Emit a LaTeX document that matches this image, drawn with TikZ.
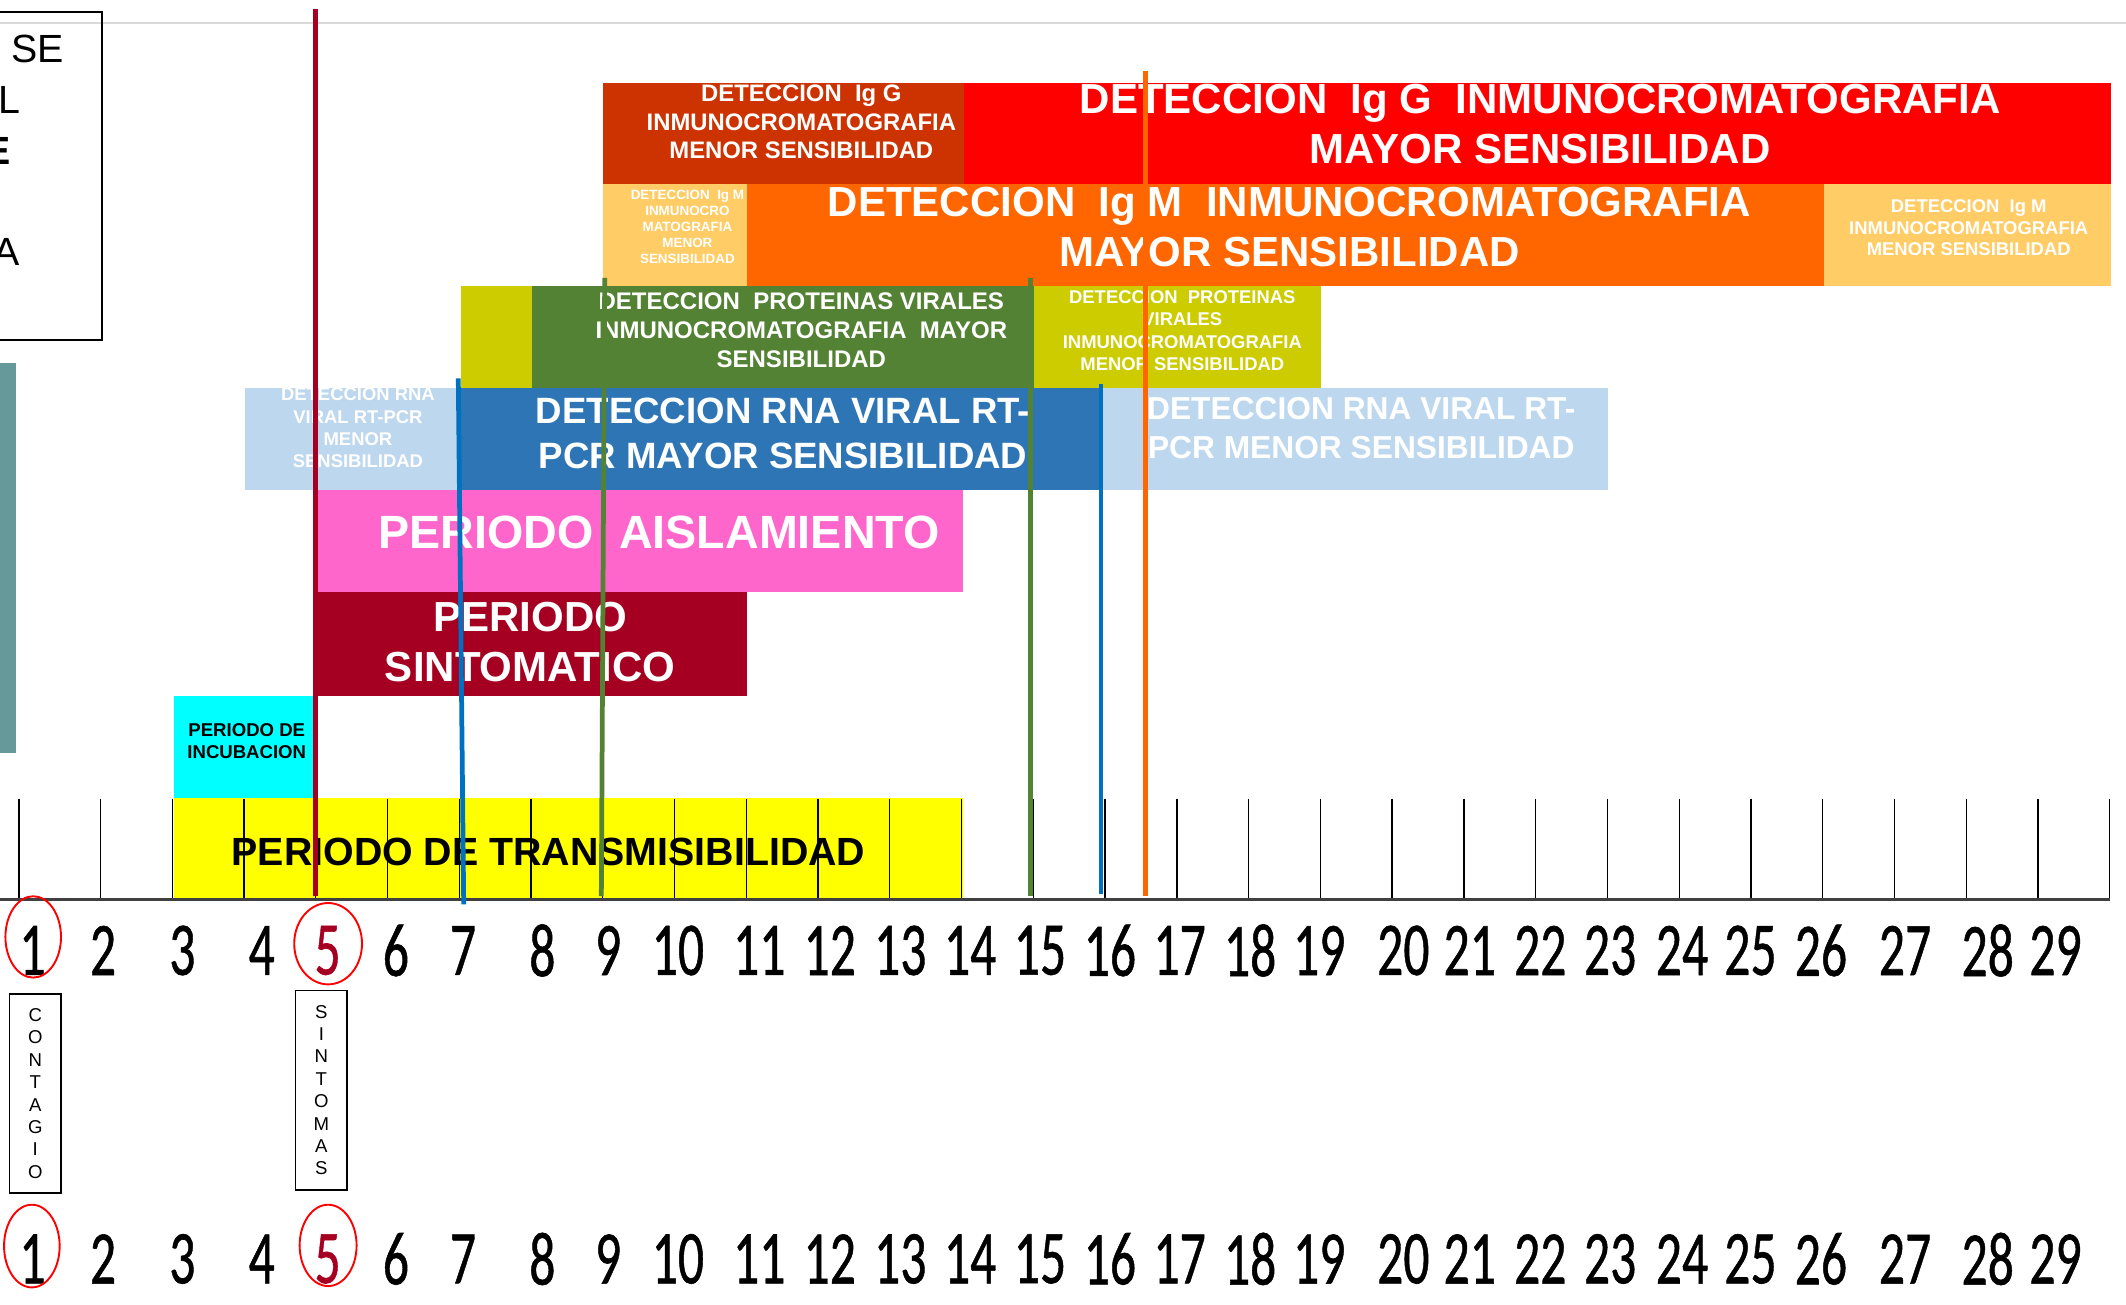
\documentclass[tikz,border=0pt]{standalone}
\usepackage{fontspec}
\usepackage{graphicx}
\setmainfont{Liberation Sans}
\newfontfamily\numfont[FakeBold=0.8]{Carlito}
\usetikzlibrary{shapes.geometric}
\definecolor{crimson}{HTML}{A50021}
\definecolor{brownG}{HTML}{CC3300}
\definecolor{redG}{HTML}{FF0000}
\definecolor{lorange}{HTML}{FFCC66}
\definecolor{orangeM}{HTML}{FF6600}
\definecolor{olive}{HTML}{CCCC00}
\definecolor{greenP}{HTML}{548235}
\definecolor{lblue}{HTML}{BDD7EE}
\definecolor{blueR}{HTML}{2E75B6}
\definecolor{pinkA}{HTML}{FF66CC}
\definecolor{cyanI}{HTML}{00FFFF}
\definecolor{yellowT}{HTML}{FFFF00}
\definecolor{tealS}{HTML}{669999}
\definecolor{blueL}{HTML}{0070C0}
\definecolor{axisg}{HTML}{404040}
\definecolor{topg}{HTML}{D9D9D9}
\newcommand\dnum[1]{\scalebox{0.68}[1]{\numfont\fontsize{56}{60}\selectfont #1}}
\begin{document}
\begin{tikzpicture}[x=1pt,y=-1pt,
  wt/.style={text=white, align=center, inner sep=0pt, font=\bfseries},
  bk/.style={text=black, align=center, inner sep=0pt, font=\bfseries},
  vline/.style={line width=3.5pt},
  tickline/.style={line width=1pt, black},
  num/.style={inner sep=0pt},
  ring/.style={draw=red, line width=1.4pt, ellipse, inner sep=0pt},
  vbox/.style={draw=black, line width=1.3pt, minimum width=38pt, minimum height=147pt, align=center, inner sep=0pt, font=\fontsize{13.7}{16.5}\selectfont}]
\useasboundingbox (0,0) rectangle (1568,962);
\clip (0,0) rectangle (1568,962);
\fill[white] (0,0) rectangle (1568,962);
% top line
\draw[topg, line width=2pt] (0,17) -- (1568,17);
% left box
\draw[black, line width=1.3pt] (-20,9) rectangle (75,251);
\node[anchor=east, inner sep=0pt, font=\fontsize{29}{35}\selectfont] (ta) at (47,36) {SE};
\node[anchor=east, inner sep=0pt, font=\fontsize{29}{35}\selectfont] (tb) at (15,74) {L};
\node[anchor=east, inner sep=0pt, font=\fontsize{29}{35}\selectfont\bfseries] (tc) at (8,111) {E};
\node[anchor=east, inner sep=0pt, font=\fontsize{29}{35}\selectfont] (td) at (15,186) {A};
\fill[tealS] (0,268) rectangle (12,555);
% bars
\fill[brownG] (444.7,61) rectangle (710.7,135.7);
\fill[redG] (710.7,61) rectangle (1557,135.7);
\fill[lorange] (444.7,135.7) rectangle (551,211);
\fill[orangeM] (551,135.7) rectangle (1345,211);
\fill[lorange] (1345,135.7) rectangle (1557,211);
\fill[olive] (340,211) rectangle (392,286);
\fill[greenP] (392,211) rectangle (762.7,286);
\fill[olive] (762.7,211) rectangle (974,286);
\fill[lblue] (180.5,286) rectangle (337,361.4);
\fill[blueR] (337,286) rectangle (812.6,361.4);
\fill[lblue] (812.6,286) rectangle (1186,361.4);
\fill[pinkA] (234.3,361.4) rectangle (710.6,436.4);
\fill[crimson] (231,436.4) rectangle (551,513.3);
\fill[cyanI] (128,513.3) rectangle (231,588.6);
\fill[yellowT] (128,588.6) rectangle (710,663);
% ticks
\draw[tickline] (14,589) -- (14,663);
\draw[tickline] (74,589) -- (74,663);
\foreach \i in {0,...,27} {\draw[tickline] (127+52.926*\i,589) -- (127+52.926*\i,663);}
\draw[axisg, line width=2.5pt] (0,663.5) -- (1556,663.5);
% texts
\node[wt, font=\bfseries\fontsize{31}{37}\selectfont] (tIgGmay) at (1136,91.5) {DETECCION\ \ Ig G\ \ INMUNOCROMATOGRAFIA\\MAYOR SENSIBILIDAD};
\node[wt, font=\bfseries\fontsize{31}{37}\selectfont] (tIgMmay) at (951,167.5) {DETECCION\ \ Ig M\ \ INMUNOCROMATOGRAFIA\\MAYOR SENSIBILIDAD};
\node[wt, font=\bfseries\fontsize{17.6}{21}\selectfont] (tIgGmen) at (591,90) {DETECCION\ \ Ig G\\INMUNOCROMATOGRAFIA\\MENOR SENSIBILIDAD};
\node[wt, font=\bfseries\fontsize{9.9}{11.8}\selectfont] (tIgMmenA) at (507,167.5) {DETECCION\ \ Ig M\\INMUNOCRO\\MATOGRAFIA\\MENOR\\SENSIBILIDAD};
\node[wt, font=\bfseries\fontsize{13.6}{16}\selectfont] (tIgMmenB) at (1452,168) {DETECCION\ \ Ig M\\INMUNOCROMATOGRAFIA\\MENOR SENSIBILIDAD};
\node[wt, font=\bfseries\fontsize{17.7}{21.5}\selectfont] (tProtMay) at (591,243.5) {DETECCION\ \ PROTEINAS VIRALES\\INMUNOCROMATOGRAFIA\ \ MAYOR\\SENSIBILIDAD};
\node[wt, font=\bfseries\fontsize{13.6}{16.6}\selectfont] (tProtMen) at (872,244) {DETECCION\ \ PROTEINAS\\VIRALES\\INMUNOCROMATOGRAFIA\\MENOR SENSIBILIDAD};
\node[wt, font=\bfseries\fontsize{13.6}{16.4}\selectfont] (tRnaMenA) at (264,315.5) {DETECCION RNA\\VIRAL RT-PCR\\MENOR\\SENSIBILIDAD};
\node[wt, font=\bfseries\fontsize{27}{33}\selectfont] (tRnaMay) at (577.5,319.5) {DETECCION RNA VIRAL RT-\\PCR MAYOR SENSIBILIDAD};
\node[wt, font=\bfseries\fontsize{23.4}{29}\selectfont] (tRnaMenB) at (1004,315.5) {DETECCION RNA VIRAL RT-\\PCR MENOR SENSIBILIDAD};
\node[wt, font=\bfseries\fontsize{34.4}{41}\selectfont] (tAisl) at (486,393) {PERIODO\ \ AISLAMIENTO};
\node[wt, font=\bfseries\fontsize{31}{37}\selectfont] (tSint) at (391,473.5) {PERIODO\\SINTOMATICO};
\node[bk, font=\bfseries\fontsize{13.7}{16.5}\selectfont] (tIncu) at (182,546.5) {PERIODO DE\\INCUBACION};
\node[bk, font=\bfseries\fontsize{29}{35}\selectfont] (tTrans) at (404.5,628) {PERIODO DE TRANSMISIBILIDAD};
% vertical markers
\draw[crimson, vline] (232.5,7) -- (232.5,661);
\draw[blueL, vline] (338,279) -- (342,667);
\draw[greenP, vline] (446,205) -- (443.5,661);
\draw[greenP, vline] (760,205) -- (760,661);
\draw[blueL, vline] (812,283) -- (812,659);
\draw[orangeM, vline] (845,52) -- (845,661);
% numbers
\foreach \x [count=\i] in {24,76,134.5,193,241.6,292,341.5,400,448.5,500,560,612,664,715.5,767,818.6,870,922,973,1035,1084,1136,1187.5,1240.5,1291,1343,1405,1466,1516} {
  \node[num] (na\i) at (\x,701) {\ifnum\i=5 \color{crimson}\fi\dnum{\i}};
  \node[num] (nb\i) at (\x,928.5) {\ifnum\i=5 \color{crimson}\fi\dnum{\i}};
}
% rings
\node[ring, minimum width=41pt, minimum height=60pt] (ra1) at (24.5,691) {};
\node[ring, minimum width=50pt, minimum height=60pt] (ra5) at (242,696) {};
\node[ring, minimum width=41pt, minimum height=61pt] (rb1) at (23.5,919) {};
\node[ring, minimum width=42pt, minimum height=60pt] (rb5) at (242,918.5) {};
% vertical word boxes
\node[vbox] (contagio) at (26,806.5) {C\\O\\N\\T\\A\\G\\I\\O};
\node[vbox] (sintomas) at (237,804) {S\\I\\N\\T\\O\\M\\A\\S};
\end{tikzpicture}
\end{document}
